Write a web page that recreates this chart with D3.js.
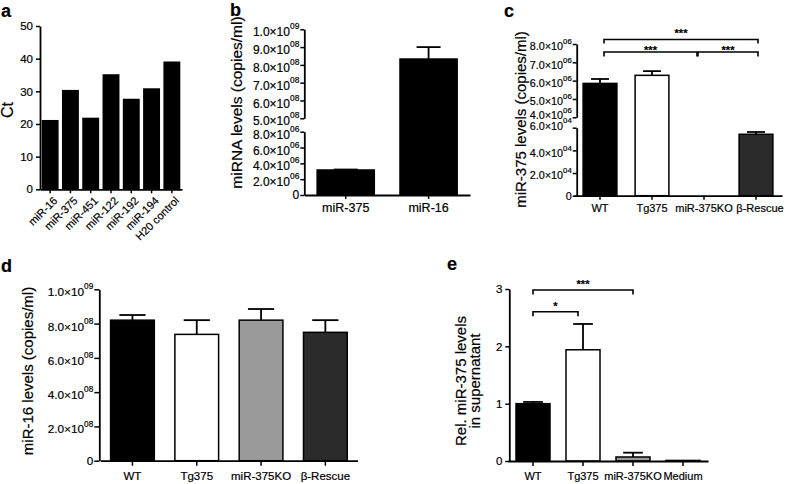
<!DOCTYPE html>
<html><head><meta charset="utf-8">
<script src="https://cdn.jsdelivr.net/npm/d3@7"></script>
<style>
body{margin:0;background:#fff}
svg{display:block}
text{font-family:"Liberation Sans",Arial,Helvetica,sans-serif;fill:#000;stroke:#000;stroke-width:0.2px}
</style>
</head><body>
<svg id="chart" width="787" height="484"></svg>
<script>
// ---------------- DATA ----------------
const aCategories = ["miR-16","miR-375","miR-451","miR-122","miR-192","miR-194","H20 control"];
const aCt = [21.0, 30.2, 21.7, 35.0, 27.5, 30.7, 38.9];
const aTicks = [0,10,20,30,40,50];

const bCategories = ["miR-375","miR-16"];
const bMeans = [3.16e6, 8.33e8];
const bErrors = [0.06e6, 0.67e8];
const bLowTicks = [0,2e6,4e6,6e6,8e6];
const bHighTicks = [5e8,6e8,7e8,8e8,9e8,1e9];

const cCategories = ["WT","Tg375","miR-375KO","β-Rescue"];
const cMeans = [5.85e6, 6.29e6, 0, 5.42e4];
const cErrors = [0.24e6, 0.23e6, 0, 0.2e4];
const cLowTicks = [0,2e4,4e4,6e4];
const cHighTicks = [4e6,5e6,6e6,7e6,8e6];
const cSignif = [["WT","β-Rescue","***"],["WT","miR-375KO","***"],["miR-375KO","β-Rescue","***"]];

const dCategories = ["WT","Tg375","miR-375KO","β-Rescue"];
const dMeans = [8.2e8, 7.37e8, 8.2e8, 7.49e8];
const dErrors = [0.3e8, 0.83e8, 0.65e8, 0.71e8];
const dTicks = [0,2e8,4e8,6e8,8e8,1e9];

const eCategories = ["WT","Tg375","miR-375KO","Medium"];
const eMeans = [1.0, 1.94, 0.07, 0.01];
const eErrors = [0.03, 0.45, 0.075, 0];
const eTicks = [0,1,2,3];
const eSignif = [["WT","miR-375KO","***"],["WT","Tg375","*"]];

// ---------------- DRAWING ----------------
const FONT = '"Liberation Sans", Arial, Helvetica, sans-serif';
const svg = d3.select("#chart");
const AXW = 1.8;
const groupFill = {"WT":"#000","Tg375":"#fff","miR-375KO":"#9a9a9a","β-Rescue":"#2b2b2b","Medium":"#2b2b2b"};

function styleAxis(g, fs){
  g.attr("font-family", FONT).attr("font-size", fs);
  g.selectAll("path.domain").attr("stroke","#000").attr("stroke-width",AXW);
  g.selectAll(".tick line").attr("stroke","#000").attr("stroke-width",1.5);
  g.selectAll(".tick text").attr("fill","#000");
}
function sciText(sel, fs, supRatio, shifts){
  sel.each(function(d){
    const t = d3.select(this);
    t.text(null);
    if(d === 0){ t.text("0"); return; }
    const e = Math.floor(Math.log10(d) + 1e-9);
    const m = d / Math.pow(10, e);
    const sh = (shifts && shifts.has(d)) ? shifts.get(d) : 0;
    t.attr("dy", null).attr("y", fs*0.55 + sh);
    t.append("tspan").text(m.toFixed(1) + "×10");
    t.append("tspan").attr("dy", -fs*0.58).attr("font-size", fs*supRatio).text(String(e).padStart(2,"0"));
  });
}
function panelLetter(txt, x, y){
  svg.append("text").attr("x",x).attr("y",y).attr("font-size",18).attr("font-weight","bold").text(txt);
}
function yLabel(lines, x, y, fs){
  const t = svg.append("text").attr("transform",`translate(${x},${y}) rotate(-90)`)
    .attr("text-anchor","middle").attr("font-size",fs);
  lines.forEach((l,i)=> t.append("tspan").attr("x",0).attr("dy", i===0?0:fs*0.95).text(l));
}
function drawBars(g, cats, means, errs, x, yf, base, capFrac, fillFn){
  const bw = x.bandwidth();
  g.selectAll("rect.bar").data(cats).join("rect").attr("class","bar")
    .attr("x", d=>x(d)).attr("width", bw)
    .attr("y", (d,i)=>yf(means[i]))
    .attr("height", (d,i)=>Math.max(0, base - yf(means[i])))
    .attr("fill", fillFn).attr("stroke","#000").attr("stroke-width",1.5);
  if(!errs) return;
  const eg = g.append("g").attr("stroke","#000").attr("stroke-width",1.8);
  cats.forEach((c,i)=>{
    if(!errs[i]) return;
    const cx = x(c) + bw/2;
    const y0 = yf(means[i]), y1 = yf(means[i]+errs[i]);
    eg.append("line").attr("x1",cx).attr("x2",cx).attr("y1",y0).attr("y2",y1);
    eg.append("line").attr("x1",cx-bw*capFrac/2).attr("x2",cx+bw*capFrac/2).attr("y1",y1).attr("y2",y1);
  });
}
function bracket(x1, x2, yLine, drop, label, labelY, fs){
  const g = svg.append("g");
  g.append("path").attr("d",`M${x1},${yLine+drop}V${yLine}H${x2}V${yLine+drop}`)
    .attr("fill","none").attr("stroke","#000").attr("stroke-width",1.6);
  g.append("text").attr("x",(x1+x2)/2).attr("y",labelY).attr("text-anchor","middle")
    .attr("font-size",fs).attr("font-weight","bold").text(label);
}

// ===== Panel a =====
{
  const x = d3.scaleBand().domain(aCategories).range([40,182]).paddingInner(0.24).paddingOuter(0.12);
  const y = d3.scaleLinear().domain([0,50]).range([189.3,26]);
  const g = svg.append("g");
  drawBars(g, aCategories, aCt, null, x, y, 189.3, 0, ()=> "#000");
  const ya = svg.append("g").attr("transform","translate(40,0)")
    .call(d3.axisLeft(y).tickValues(aTicks).tickFormat(d3.format("d")).tickSize(4).tickSizeOuter(0).tickPadding(3));
  styleAxis(ya, 11.5);
  const xa = svg.append("g").attr("transform","translate(0,189.3)")
    .call(d3.axisBottom(x).tickSize(4).tickSizeOuter(0));
  styleAxis(xa, 11);
  xa.selectAll(".tick text").attr("text-anchor","end").attr("dy",null).attr("y",null)
    .attr("transform","translate(8,12) rotate(-45)");
  yLabel(["Ct"], 13, 110, 16);
  panelLetter("a", 1, 17);
}

// ===== Panel b =====
{
  const X0 = 304.3;
  const x = d3.scaleBand().domain(bCategories).range([X0,470]).paddingInner(0.31).paddingOuter(0.155);
  const low = d3.scaleLinear().domain([0,8e6]).range([195,131.7]);
  const high = d3.scaleLinear().domain([5e8,1e9]).range([118.3,29.3]);
  const yf = v => v <= 8e6 ? low(v) : high(v);
  const g = svg.append("g");
  drawBars(g, bCategories, bMeans, bErrors, x, yf, 195, 0.42, ()=> "#000");
  const a1 = svg.append("g").attr("transform",`translate(${X0},0)`)
    .call(d3.axisLeft(high).tickValues(bHighTicks).tickSize(4).tickSizeOuter(0).tickPadding(1));
  styleAxis(a1, 12); a1.selectAll(".tick text").call(sciText, 12, 0.7);
  const a2 = svg.append("g").attr("transform",`translate(${X0},0)`)
    .call(d3.axisLeft(low).tickValues(bLowTicks).tickSize(4).tickSizeOuter(0).tickPadding(1));
  styleAxis(a2, 12); a2.selectAll(".tick text").call(sciText, 12, 0.7);
  const xa = svg.append("g").attr("transform","translate(0,195)")
    .call(d3.axisBottom(x).tickSize(4).tickSizeOuter(0).tickPadding(4));
  styleAxis(xa, 12.5);
  yLabel(["miRNA levels (copies/ml)"], 242, 102.5, 15.5);
  panelLetter("b", 230, 16);
}

// ===== Panel c =====
{
  const X0 = 576.7;
  const x = d3.scaleBand().domain(cCategories).range([574,782]).paddingInner(0.35).paddingOuter(0.175);
  const low = d3.scaleLinear().domain([0,6e4]).range([195.7,127.7]);
  const high = d3.scaleLinear().domain([4e6,8e6]).range([117.3,44]);
  const yf = v => v <= 6e4 ? low(v) : high(v);
  const g = svg.append("g");
  drawBars(g, cCategories, cMeans, cErrors, x, yf, 195.7, 0.53, d=>groupFill[d]);
  const a1 = svg.append("g").attr("transform",`translate(${X0},0)`)
    .call(d3.axisLeft(high).tickValues(cHighTicks).tickSize(4).tickSizeOuter(0).tickPadding(1));
  styleAxis(a1, 10.8); a1.selectAll(".tick text").call(sciText, 10.8, 0.72, new Map([[4e6,-4.6]]));
  const a2 = svg.append("g").attr("transform",`translate(${X0},0)`)
    .call(d3.axisLeft(low).tickValues(cLowTicks).tickSize(4).tickSizeOuter(0).tickPadding(1));
  styleAxis(a2, 10.8); a2.selectAll(".tick text").call(sciText, 10.8, 0.72, new Map([[6e4,-4.5]]));
  const xa = svg.append("g").attr("transform","translate(0,195.7)")
    .call(d3.axisBottom(x).tickSize(4).tickSizeOuter(0).tickPadding(5));
  styleAxis(xa, 11);
  xa.selectAll(".tick text").attr("dx", d => d === "β-Rescue" ? 4 : 0);
  const cx = c => x(c) + x.bandwidth()/2;
  bracket(cx(cSignif[0][0])+4, cx(cSignif[0][1])+2, 39.5, 4, cSignif[0][2], 36.5, 11);
  bracket(cx(cSignif[1][0])+4, cx(cSignif[1][1])-7, 52, 4.5, cSignif[1][2], 53.5, 11);
  bracket(cx(cSignif[2][0])-6, cx(cSignif[2][1])+2, 52, 4.5, cSignif[2][2], 53.5, 11);
  yLabel(["miR-375 levels (copies/ml)"], 526, 119.5, 15);
  panelLetter("c", 504, 16.5);
}

// ===== Panel d =====
{
  const X0 = 99.3;
  const x = d3.scaleBand().domain(dCategories).range([100.3,357.5]).paddingInner(0.32).paddingOuter(0.16);
  const y = d3.scaleLinear().domain([0,1e9]).range([460.7,289.3]);
  const g = svg.append("g");
  drawBars(g, dCategories, dMeans, dErrors, x, y, 460.7, 0.6, d=>groupFill[d]);
  const ya = svg.append("g").attr("transform",`translate(${X0},0)`)
    .call(d3.axisLeft(y).tickValues(dTicks).tickSize(5).tickSizeOuter(0).tickPadding(1));
  styleAxis(ya, 11.8); ya.selectAll(".tick text").call(sciText, 11.8, 0.7);
  const xa = svg.append("g").attr("transform","translate(0,460.7)")
    .call(d3.axisBottom(x).tickSize(5).tickSizeOuter(0).tickPadding(6.5));
  styleAxis(xa, 11.5);
  yLabel(["miR-16 levels (copies/ml)"], 33, 371, 15);
  panelLetter("d", 1, 272);
}

// ===== Panel e =====
{
  const X0 = 509.3;
  const x = d3.scaleBand().domain(eCategories).range([508,708]).paddingInner(0.32).paddingOuter(0.16);
  const y = d3.scaleLinear().domain([0,3]).range([461,289]);
  const g = svg.append("g");
  drawBars(g, eCategories, eMeans, eErrors, x, y, 461, 0.58, d=>groupFill[d]);
  const ya = svg.append("g").attr("transform",`translate(${X0},0)`)
    .call(d3.axisLeft(y).tickValues(eTicks).tickFormat(d3.format("d")).tickSize(4).tickSizeOuter(0).tickPadding(3));
  styleAxis(ya, 11.5);
  const xa = svg.append("g").attr("transform","translate(0,461)")
    .call(d3.axisBottom(x).tickSize(5).tickSizeOuter(0).tickPadding(6.5));
  styleAxis(xa, 11);
  const cx = c => x(c) + x.bandwidth()/2;
  bracket(cx(eSignif[0][0]), cx(eSignif[0][1]), 290, 4.5, eSignif[0][2], 287.5, 11);
  bracket(cx(eSignif[1][0]), cx(eSignif[1][1])-5, 311.7, 4.5, eSignif[1][2], 310, 11);
  yLabel(["Rel. miR-375 levels","in supernatant"], 466, 381, 15);
  panelLetter("e", 447, 270);
}
</script>
</body></html>
